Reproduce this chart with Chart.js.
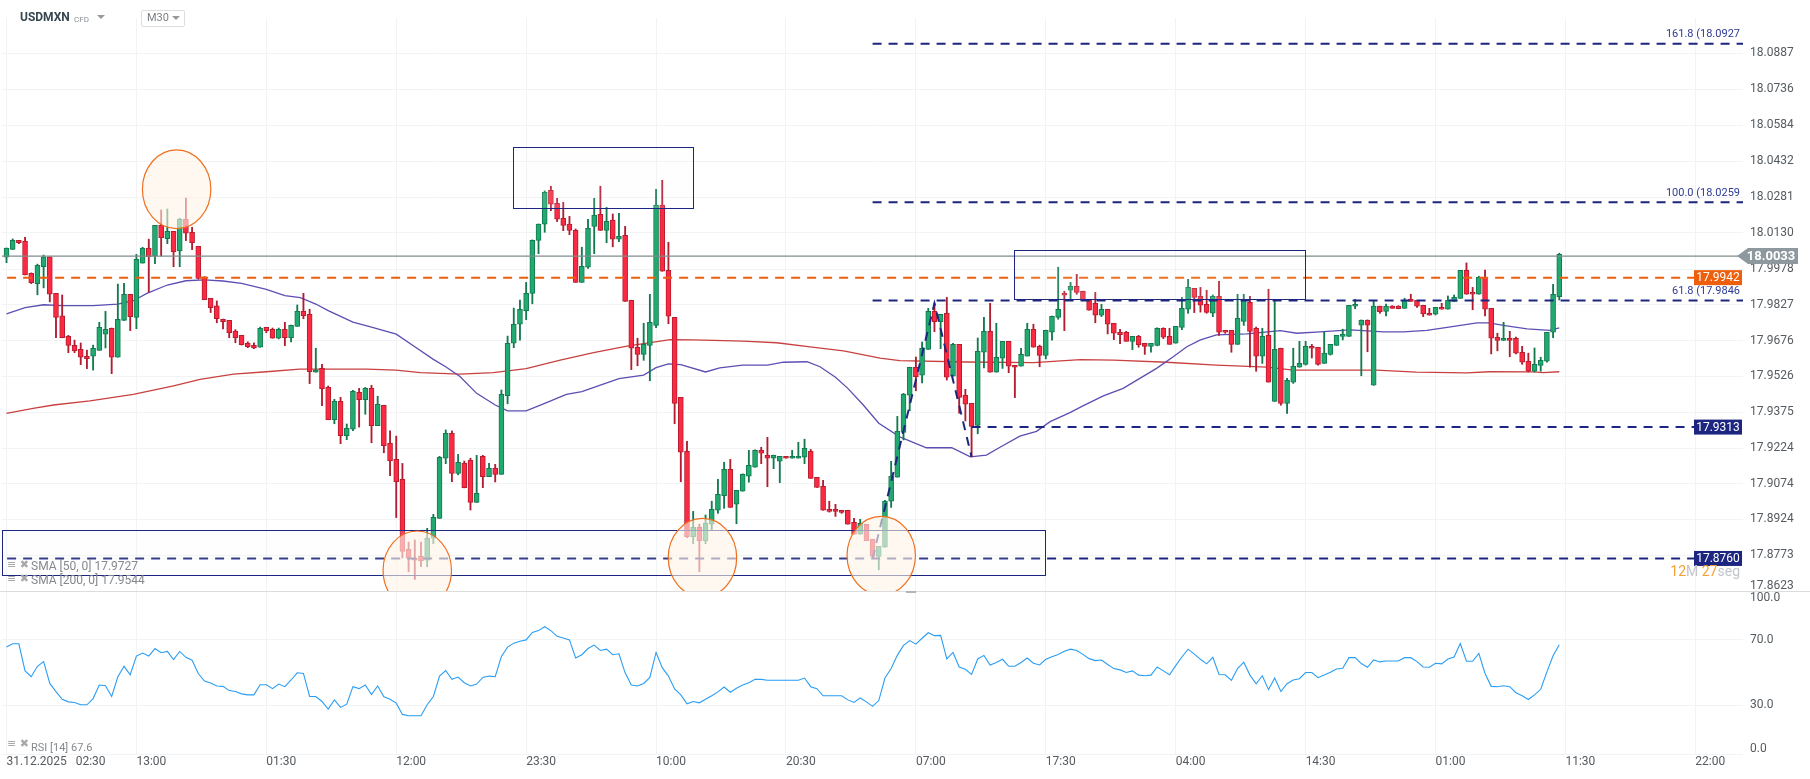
<!DOCTYPE html>
<html>
<head>
<meta charset="utf-8">
<title>USDMXN</title>
<script src="https://cdn.jsdelivr.net/npm/chart.js@4"></script>
<style>
html,body{margin:0;padding:0;background:#fff;overflow:hidden;font-family:Roboto,sans-serif;}
#wrap{position:relative;width:1810px;height:779px;}
canvas{position:absolute;left:0;}
#mainChart{top:0;}
#rsiChart{top:591px;}
#divider{position:absolute;left:0;top:591px;width:1810px;height:1px;background:#dcdcdc;}
#handle{position:absolute;left:906px;top:591px;width:10px;height:2px;background:#b5b5b5;}
.t{position:absolute;white-space:pre;}
.sym{left:20px;top:10px;font-size:12px;font-weight:700;color:#37474f;}
.cfd{left:74px;top:15px;font-size:8px;color:#8a8f94;}
.tri{width:0;height:0;border-left:4px solid transparent;border-right:4px solid transparent;border-top:4px solid #999;position:absolute;}
.tf{position:absolute;left:141px;top:10px;width:42px;height:15px;border:1px solid #dedede;border-radius:2px;background:#fff;}
.tfl{left:147px;top:11px;font-size:11px;color:#7a7f85;}
.leg{left:31px;font-size:12px;color:#85898d;}
.ico{left:7px;font-size:11px;color:#a9a9a9;font-family:"DejaVu Sans",sans-serif;}
.clock{left:1640px;width:100px;top:563px;text-align:right;font-size:14px;color:#c2c6ca;}
.clock b{font-weight:400;color:#f7a035;}
</style>
</head>
<body>
<div id="wrap">
  <canvas id="mainChart" width="1810" height="591"></canvas>
  <canvas id="rsiChart" width="1810" height="188"></canvas>
  <div id="divider"></div>
  <div id="handle"></div>
  <div class="t sym">USDMXN</div>
  <div class="t cfd">CFD</div>
  <div class="tri" style="left:97px;top:15px"></div>
  <div class="tf"></div>
  <div class="t tfl">M30</div>
  <div class="tri" style="left:172px;top:16px"></div>
  <div class="t ico" style="top:558px">≡ ✖</div>
  <div class="t leg" style="top:559px">SMA [50, 0] 17.9727</div>
  <div class="t ico" style="top:572px">≡ ✖</div>
  <div class="t leg" style="top:573px">SMA [200, 0] 17.9544</div>
  <div class="t ico" style="top:737px">≡ ✖</div>
  <div class="t leg" style="top:741px;font-size:11px">RSI [14] 67.6</div>
  <div class="t clock"><b>12</b>M <b>27</b>seg</div>
</div>
<script>
// ===== Data =====
const opens = [
18.0028,18.0061,18.0099,18.0096,17.9960,17.9917,17.9988,18.0030,17.9876,17.9781,
17.9695,17.9657,17.9640,17.9611,17.9611,17.9636,17.9704,17.9729,17.9607,17.9762,
17.9872,17.9775,18.0003,18.0066,18.0032,18.0162,18.0106,18.0137,18.0055,18.0188,
18.0133,18.0074,17.9946,17.9855,17.9823,17.9767,17.9762,17.9717,17.9699,17.9666,
17.9657,17.9649,17.9733,17.9725,17.9687,17.9725,17.9689,17.9737,17.9800,17.9788,
17.9544,17.9560,17.9480,17.9344,17.9421,17.9277,17.9304,17.9459,17.9428,17.9476,
17.9319,17.9405,17.9245,17.9177,17.9093,17.8798,17.8762,17.8769,17.8753,17.8845,
17.8929,17.9182,17.9287,17.9118,17.9161,17.9173,17.8996,17.9190,17.9104,17.9139,
17.9114,17.9445,17.9666,17.9746,17.9803,17.9876,18.0099,18.0167,18.0310,18.0255,
18.0192,18.0167,18.0141,17.9922,17.9986,18.0158,18.0209,18.0141,18.0184,18.0104,
18.0120,17.9847,17.9649,17.9619,17.9657,17.9741,18.0247,17.9973,17.9775,17.9438,
17.9211,17.8852,17.8891,17.8835,17.8904,17.8963,17.9024,17.9135,17.8988,17.9043,
17.9106,17.9144,17.9215,17.9194,17.9182,17.9169,17.9190,17.9182,17.9182,17.9186,
17.9211,17.9101,17.9064,17.8967,17.8967,17.8963,17.8963,17.8912,17.8862,17.8904,
17.8841,17.8769,17.8807,17.9001,17.9102,17.9291,17.9447,17.9565,17.9531,17.9640,
17.9800,17.9757,17.9792,17.9527,17.9661,17.9447,17.9413,17.9320,17.9628,17.9716,
17.9544,17.9603,17.9674,17.9573,17.9569,17.9612,17.9725,17.9653,17.9615,17.9712,
17.9775,17.9876,17.9889,17.9906,17.9885,17.9847,17.9834,17.9784,17.9809,17.9750,
17.9712,17.9712,17.9674,17.9695,17.9666,17.9653,17.9657,17.9729,17.9695,17.9666,
17.9733,17.9809,17.9897,17.9863,17.9830,17.9792,17.9863,17.9720,17.9720,17.9661,
17.9758,17.9838,17.9729,17.9611,17.9699,17.9421,17.9645,17.9413,17.9502,17.9565,
17.9577,17.9653,17.9649,17.9581,17.9619,17.9657,17.9695,17.9695,17.9822,17.9742,
17.9763,17.9489,17.9822,17.9800,17.9822,17.9822,17.9813,17.9851,17.9847,17.9826,
17.9792,17.9788,17.9817,17.9809,17.9842,17.9855,17.9973,17.9880,17.9872,17.9943,
17.9813,17.9691,17.9678,17.9687,17.9687,17.9628,17.9590,17.9548,17.9573,17.9590,17.9712,17.9862];

const closes = [
18.0066,18.0099,18.0089,17.9954,17.9921,17.9994,18.0030,17.9872,17.9775,17.9689,
17.9657,17.9634,17.9607,17.9601,17.9645,17.9733,17.9725,17.9607,17.9767,17.9872,
17.9778,18.0019,18.0066,18.0030,18.0162,18.0110,18.0137,18.0051,18.0188,18.0129,
18.0089,17.9939,17.9849,17.9816,17.9769,17.9757,17.9710,17.9689,17.9660,17.9651,
17.9646,17.9729,17.9719,17.9687,17.9725,17.9689,17.9741,17.9800,17.9782,17.9546,
17.9553,17.9475,17.9344,17.9421,17.9277,17.9308,17.9464,17.9428,17.9476,17.9319,
17.9409,17.9235,17.9171,17.9083,17.8790,17.8761,17.8753,17.8750,17.8845,17.8933,
17.9186,17.9287,17.9118,17.9165,17.9058,17.8996,17.9034,17.9104,17.9139,17.9114,
17.9451,17.9666,17.9746,17.9809,17.9876,18.0099,18.0167,18.0301,18.0251,18.0188,
18.0162,18.0141,17.9922,17.9990,18.0150,18.0205,18.0141,18.0179,18.0104,18.0116,
17.9842,17.9645,17.9619,17.9661,17.9754,18.0247,17.9969,17.9780,17.9413,17.9207,
17.8852,17.8891,17.8835,17.8908,17.8967,17.9030,17.9135,17.8975,17.9047,17.9114,
17.9152,17.9215,17.9203,17.9182,17.9194,17.9190,17.9182,17.9190,17.9190,17.9224,
17.9097,17.9059,17.8963,17.8958,17.8958,17.8954,17.8904,17.8862,17.8908,17.8835,
17.8769,17.8811,17.9001,17.9106,17.9295,17.9452,17.9565,17.9525,17.9645,17.9800,
17.9757,17.9788,17.9523,17.9661,17.9438,17.9409,17.9316,17.9632,17.9716,17.9544,
17.9607,17.9674,17.9569,17.9565,17.9619,17.9725,17.9649,17.9615,17.9720,17.9779,
17.9809,17.9868,17.9906,17.9880,17.9847,17.9805,17.9784,17.9809,17.9746,17.9708,
17.9702,17.9674,17.9695,17.9660,17.9653,17.9666,17.9729,17.9691,17.9661,17.9737,
17.9813,17.9901,17.9859,17.9826,17.9796,17.9863,17.9712,17.9712,17.9661,17.9771,
17.9847,17.9716,17.9611,17.9695,17.9502,17.9640,17.9413,17.9510,17.9569,17.9581,
17.9653,17.9645,17.9577,17.9624,17.9661,17.9699,17.9704,17.9826,17.9830,17.9763,
17.9742,17.9822,17.9799,17.9822,17.9813,17.9811,17.9847,17.9842,17.9822,17.9789,
17.9784,17.9817,17.9809,17.9847,17.9859,17.9973,17.9872,17.9872,17.9943,17.9809,
17.9687,17.9678,17.9687,17.9678,17.9624,17.9586,17.9548,17.9577,17.9594,17.9712,17.9872,18.0040];

const highs = [
18.0067,18.0105,18.0099,18.0112,17.9962,17.9999,18.0037,18.0030,17.9876,17.9869,
17.9699,17.9679,17.9667,17.9637,17.9658,17.9754,17.9800,17.9730,17.9915,17.9918,
17.9872,18.0040,18.0070,18.0104,18.0162,18.0227,18.0231,18.0137,18.0192,18.0277,
18.0154,18.0074,17.9946,17.9855,17.9844,17.9768,17.9762,17.9723,17.9699,17.9672,
17.9668,17.9734,17.9733,17.9730,17.9730,17.9754,17.9742,17.9827,17.9876,17.9809,
17.9645,17.9577,17.9486,17.9430,17.9438,17.9326,17.9468,17.9476,17.9480,17.9489,
17.9443,17.9405,17.9297,17.9275,17.9160,17.8829,17.8838,17.8829,17.8887,17.8946,
17.9190,17.9301,17.9297,17.9198,17.9170,17.9182,17.9194,17.9194,17.9160,17.9156,
17.9469,17.9696,17.9814,17.9848,17.9922,18.0101,18.0168,18.0307,18.0327,18.0276,
18.0259,18.0200,18.0147,18.0070,18.0188,18.0276,18.0327,18.0238,18.0210,18.0213,
18.0158,17.9847,17.9687,17.9750,17.9872,18.0314,18.0352,18.0091,17.9775,17.9438,
17.9253,17.8958,17.8904,17.8943,17.9001,17.9093,17.9165,17.9177,17.9047,17.9116,
17.9215,17.9217,17.9228,17.9270,17.9195,17.9190,17.9190,17.9215,17.9249,17.9262,
17.9219,17.9101,17.9089,17.9001,17.8988,17.8963,17.8963,17.8929,17.8925,17.8904,
17.8841,17.8811,17.9005,17.9169,17.9358,17.9455,17.9565,17.9608,17.9671,17.9813,
17.9834,17.9788,17.9859,17.9666,17.9661,17.9472,17.9413,17.9688,17.9775,17.9834,
17.9750,17.9674,17.9674,17.9573,17.9645,17.9750,17.9746,17.9658,17.9721,17.9780,
17.9986,17.9885,17.9922,17.9956,17.9885,17.9847,17.9880,17.9830,17.9809,17.9750,
17.9725,17.9716,17.9695,17.9699,17.9666,17.9666,17.9731,17.9731,17.9729,17.9737,
17.9859,17.9935,17.9897,17.9901,17.9889,17.9869,17.9927,17.9720,17.9720,17.9872,
17.9872,17.9863,17.9734,17.9729,17.9893,17.9845,17.9645,17.9518,17.9645,17.9674,
17.9674,17.9661,17.9649,17.9712,17.9661,17.9699,17.9725,17.9826,17.9851,17.9764,
17.9764,17.9843,17.9822,17.9831,17.9824,17.9824,17.9855,17.9872,17.9847,17.9826,
17.9813,17.9817,17.9834,17.9865,17.9869,17.9973,18.0004,17.9901,17.9948,17.9974,
17.9813,17.9708,17.9754,17.9716,17.9692,17.9653,17.9624,17.9646,17.9607,17.9712,17.9914,18.0045];

const lows = [
18.0005,18.0060,18.0085,17.9953,17.9917,17.9870,17.9899,17.9840,17.9689,17.9689,
17.9626,17.9626,17.9576,17.9559,17.9553,17.9636,17.9646,17.9538,17.9607,17.9762,
17.9719,17.9727,18.0003,17.9880,18.0001,18.0033,18.0085,17.9988,17.9988,18.0098,
18.0060,17.9936,17.9849,17.9795,17.9752,17.9726,17.9689,17.9668,17.9658,17.9647,
17.9643,17.9649,17.9710,17.9687,17.9684,17.9656,17.9672,17.9737,17.9769,17.9496,
17.9544,17.9403,17.9344,17.9327,17.9243,17.9260,17.9298,17.9313,17.9367,17.9247,
17.9319,17.9205,17.9108,17.8932,17.8762,17.8704,17.8672,17.8725,17.8725,17.8822,
17.8929,17.9159,17.9083,17.9112,17.9057,17.8964,17.8996,17.9058,17.9104,17.9082,
17.9114,17.9411,17.9647,17.9679,17.9765,17.9832,18.0043,18.0133,18.0224,18.0178,
18.0140,18.0123,17.9922,17.9922,17.9981,18.0043,18.0141,18.0089,18.0072,18.0093,
17.9842,17.9555,17.9571,17.9594,17.9508,17.9731,17.9969,17.9748,17.9327,17.9083,
17.8848,17.8822,17.8704,17.8822,17.8881,17.8950,17.8971,17.8975,17.8906,17.9043,
17.9081,17.9144,17.9159,17.9062,17.9138,17.9079,17.9182,17.9182,17.9182,17.9159,
17.9097,17.9059,17.8963,17.8955,17.8937,17.8950,17.8904,17.8862,17.8862,17.8835,
17.8769,17.8712,17.8807,17.8975,17.9102,17.9259,17.9382,17.9466,17.9499,17.9640,
17.9715,17.9643,17.9511,17.9527,17.9371,17.9339,17.9188,17.9285,17.9562,17.9544,
17.9544,17.9560,17.9542,17.9437,17.9569,17.9612,17.9649,17.9567,17.9600,17.9679,
17.9767,17.9719,17.9851,17.9872,17.9847,17.9805,17.9752,17.9778,17.9705,17.9681,
17.9664,17.9674,17.9639,17.9649,17.9619,17.9628,17.9655,17.9685,17.9661,17.9666,
17.9723,17.9792,17.9795,17.9797,17.9792,17.9778,17.9699,17.9708,17.9628,17.9661,
17.9741,17.9565,17.9548,17.9581,17.9502,17.9421,17.9405,17.9371,17.9497,17.9565,
17.9574,17.9604,17.9574,17.9581,17.9616,17.9657,17.9680,17.9695,17.9811,17.9529,
17.9630,17.9489,17.9792,17.9781,17.9813,17.9811,17.9813,17.9842,17.9817,17.9778,
17.9784,17.9785,17.9809,17.9809,17.9842,17.9855,17.9872,17.9807,17.9872,17.9781,
17.9621,17.9634,17.9678,17.9609,17.9621,17.9577,17.9545,17.9545,17.9548,17.9586,17.9689,17.9848];

const sma50Idx = [0,3,6,9,14,18,20.5,22.7,26,29,32,35,38,42,45,47.5,50,52,56,59,63,66,69,71,73.3,76,79,81,84,87,90.5,93,96,99,103,105,107,109,113,115.3,119,123,125.6,129.4,131.5,134,136,138.5,141,144.4,148.7,152.8,155.8,158.4,160.6,163.8,166.5,168.7,171.9,174,177.3,180.5,183.2,185.9,188.6,190.8,193,195.6,200.5,205.9,208.6,212.3,217.2,222.6,225.8,229.6,234.5,237.7,239.6,242.5,245.8,249.5,251];
const sma50 = [17.9790,17.9816,17.9828,17.9824,17.9824,17.9831,17.9845,17.9876,17.9911,17.9929,17.9933,17.9928,17.9918,17.9893,17.9866,17.9858,17.9831,17.9803,17.9755,17.9734,17.9704,17.9651,17.9598,17.9567,17.9526,17.9455,17.9406,17.9381,17.9381,17.9413,17.9451,17.9462,17.9490,17.9517,17.9532,17.9563,17.9579,17.9576,17.9545,17.9562,17.9574,17.9574,17.9586,17.9588,17.9567,17.9523,17.9476,17.9406,17.9329,17.9272,17.9226,17.9226,17.9188,17.9195,17.9228,17.9275,17.9295,17.9336,17.9374,17.9402,17.9444,17.9476,17.9518,17.9560,17.9609,17.9651,17.9680,17.9701,17.9705,17.9719,17.9708,17.9714,17.9722,17.9714,17.9714,17.9720,17.9739,17.9752,17.9752,17.9739,17.9726,17.9720,17.9731];

const sma200Idx = [0,4.3,7.6,13.5,20.5,27,31.3,36.7,42,47.4,58.2,63,66.9,73.3,78.7,84,89.5,94.9,100.3,103.5,107.3,111,119.1,124.5,129.9,135.3,141.2,144.4,155.2,166,173.6,179,187.5,195.6,203.7,208,221.4,227.9,236,239.8,246.8,248.4,251];
const sma200 = [17.9371,17.9392,17.9406,17.9423,17.9451,17.9486,17.9514,17.9536,17.9546,17.9557,17.9557,17.9553,17.9542,17.9536,17.9542,17.9559,17.9595,17.9626,17.9654,17.9666,17.9681,17.9680,17.9675,17.9668,17.9651,17.9634,17.9603,17.9593,17.9587,17.9584,17.9597,17.9595,17.9586,17.9574,17.9565,17.9553,17.9553,17.9544,17.9541,17.9546,17.9545,17.9542,17.9546];

const rsiValues = [
65.6,67.6,67.6,51,47.4,53.8,56.7,43.3,38.3,33.6,32,31.6,30.2,30.2,34,42.3,41.9,35.3,47.4,53.8,
48.6,60.1,61.9,60.1,64.7,62.1,62.9,57.9,62.9,59.3,57.5,49.4,44.8,43.5,41.7,41.5,38.9,38.3,36.9,36.3,
36.3,42.5,42.5,40.1,42.9,41.3,45.4,49.8,49.4,35.3,35.3,32.2,27.6,33.2,28.6,30.6,41.3,40.1,42.3,36.5,
41.7,35.1,33.6,31.2,24.3,23.5,23.5,23.5,30.2,35.3,47.8,51.2,45.8,47.2,43.7,41.7,42.9,47,47.8,47.4,
59.9,65.6,68,69.2,70,74.6,75.7,78.1,75.7,72.2,71.2,70,58.9,60.9,64.7,66.8,63.5,64.3,60.9,61.5,
49.8,42.3,41.7,43.3,47,62.3,53,47.8,39.9,36.3,30.8,32.2,31.4,33.6,35.7,38.1,41.1,37.9,40.3,42.3,
43.7,45.8,45.8,45.2,45.2,45.2,45.2,45.2,45.2,46.6,41.3,40.1,35.7,35.7,35.7,35.7,33.2,31.6,34.4,32,
29.2,32.8,46.6,52.4,60.5,66.6,69.6,67.4,71,74.4,72.6,72.8,58.3,62.3,53.4,52,48.8,58.3,60.5,54.6,
56.1,58.1,53.8,53.8,56.1,58.9,55.7,54.6,58.1,59.7,61.1,63.1,64.3,63.5,61.1,58.5,57.3,57.7,54.9,52.4,
51.6,50,51,48.4,48,48.4,53.4,51,48.6,54.2,59.5,64.3,61.3,58.1,55.3,59.3,48.8,48.6,45.2,52.4,
56.3,48.4,43.1,48,39.5,46.6,38.3,43.1,45.4,46.2,50,50,46.8,48.4,50.2,52.2,52.6,59.1,59.1,55.5,
53.2,57.7,56.5,57.1,57.1,57.1,59.1,59.1,56.7,53.4,53.2,55.7,55.3,58.3,59.5,67.8,56.9,56.9,61.7,49.4,
41.5,41.3,41.9,41.3,37.6,35.7,33.4,36.3,39.7,50.4,60.3,67];

const priceTicks = [17.8623,17.8773,17.8924,17.9074,17.9224,17.9375,17.9526,17.9676,17.9827,17.9978,18.0130,18.0281,18.0432,18.0584,18.0736,18.0887];
const rsiTicks = [100,70,30,0];
const xTickIdx = [0,21,42,63,84,105,126,147,168,189,210,231,252,273];
const xTickLabels = ['31.12.2025   02:30','13:00','01:30','12:00','23:30','10:00','20:30','07:00','17:30','04:00','14:30','01:00','11:30','22:00'];

const lastPrice = 18.0033;
const orangeLevel = 17.9942;
const navyLevels = [17.9313,17.8760];
const navyStarts = [156,0.1];
const fibLevels = [17.9846,18.0259,18.0927];
const fibNames = ['61.8 (17.9846','100.0 (18.0259','161.8 (18.0927'];
const swingIdx = [140,150,156];
const swingPrices = [17.8760,17.9834,17.9188];

const circleIdx = [27.5,66.4,112.5,141.4];
const circlePrices = [18.0314,17.8710,17.8763,17.8772];
const circleRx = 5.53, circleRy = 0.01655;
const boxLeft = [81.9,-0.73,162.9];
const boxRight = [111,167.9,210];
const boxTop = [18.0491,17.8878,18.0057];
const boxBottom = [18.0234,17.8689,17.9851];

const xMin = -0.727, xMax = 280.7;
const levelEnd = 272.8, fibStart = 140;
const NAVY = '#1c2680', ORANGE = '#ee5f0c', GRID = '#f2f3f4';

Chart.defaults.font.family = 'Roboto';
Chart.defaults.animation = false;

const bullish = i => closes[i] >= opens[i];
const lineSet = (points, color, width, dash, order) => ({
    type: 'line', data: points, borderColor: color, borderWidth: width,
    borderDash: dash || [], pointRadius: 0, tension: 0, order
});
const level = (price, from, to, color, order) =>
    lineSet([{x: from, y: price}, {x: to, y: price}], color, 2, [9, 7], order);

// labels may hang over the plot edges, the plot itself must not shrink for them
const noPad = s => { s.paddingTop = s.paddingBottom = s.paddingLeft = s.paddingRight = 0; };

// x axis is shared by both panes
function xAxis(showLabels, height) {
    return {
        type: 'linear', min: xMin, max: xMax, offset: false,
        afterBuildTicks: s => { s.ticks = xTickIdx.map(v => ({value: v})); },
        afterFit: s => { s.height = height; noPad(s); },
        border: {display: false},
        grid: {color: GRID, drawTicks: false, offset: false},
        ticks: {
            display: showLabels, autoSkip: false, maxRotation: 0, align: 'start',
            padding: 1, color: '#555b60', font: {size: 12},
            callback: (v, i) => xTickLabels[i]
        }
    };
}

// ===== Price pane =====
const overlayPlugin = {
    id: 'overlay',
    afterDatasetsDraw(chart) {
        const c = chart.ctx, x = chart.scales.x, y = chart.scales.y;
        c.save();
        // boxes, snapped so the 1px outline stays crisp
        boxLeft.forEach((l, i) => {
            const px = Math.round(x.getPixelForValue(l)) + 0.5, py = Math.round(y.getPixelForValue(boxTop[i])) + 0.5;
            const w = Math.round(x.getPixelForValue(boxRight[i]) - px), h = Math.round(y.getPixelForValue(boxBottom[i]) - py);
            c.fillStyle = 'rgba(246,246,250,0.12)';
            c.fillRect(px, py, w, h);
            c.strokeStyle = NAVY; c.lineWidth = 1;
            c.strokeRect(px, py, w, h);
        });
        // circles
        circleIdx.forEach((v, i) => {
            const cx = x.getPixelForValue(v), cy = y.getPixelForValue(circlePrices[i]);
            const rx = x.getPixelForValue(v + circleRx) - cx;
            const ry = y.getPixelForValue(circlePrices[i] - circleRy) - cy;
            c.beginPath();
            c.ellipse(cx, cy, rx, ry, 0, 0, Math.PI * 2);
            c.fillStyle = 'rgba(255,244,230,0.6)';
            c.fill();
            c.strokeStyle = '#ef6f1e'; c.lineWidth = 1.2;
            c.stroke();
        });
        // fibonacci labels
        c.font = '11px Roboto'; c.fillStyle = '#2d3a94';
        c.textAlign = 'right'; c.textBaseline = 'middle';
        fibLevels.forEach((p, i) => c.fillText(fibNames[i], 1740, y.getPixelForValue(p) - 9));
        // price tags
        const tag = (p, color) => {
            const py = y.getPixelForValue(p);
            c.fillStyle = color;
            c.fillRect(1694, py - 7.5, 48, 15);
            c.fillStyle = '#fff'; c.textAlign = 'center'; c.font = '12px Roboto';
            c.fillText(p.toFixed(4), 1718, py + 0.5);
        };
        tag(orangeLevel, ORANGE);
        navyLevels.forEach(p => tag(p, NAVY));
        // last price flag
        const ly = y.getPixelForValue(lastPrice);
        c.fillStyle = '#8d999e';
        c.beginPath();
        c.moveTo(1737, ly);
        c.lineTo(1748, ly - 8);
        c.lineTo(1798, ly - 8);
        c.lineTo(1798, ly + 8);
        c.lineTo(1748, ly + 8);
        c.closePath();
        c.fill();
        c.fillStyle = '#fff'; c.font = 'bold 13px Roboto'; c.textAlign = 'center';
        c.fillText(lastPrice.toFixed(4), 1771, ly + 0.5);
        // bottom tick sits above the pane edge
        c.fillStyle = '#555b60'; c.font = '12px Roboto'; c.textAlign = 'left';
        c.fillText(priceTicks[0].toFixed(4), 1750, y.getPixelForValue(priceTicks[0]) - 5);
        c.restore();
    }
};

new Chart(document.getElementById('mainChart'), {
    type: 'bar',
    data: {
        datasets: [
            lineSet(sma50Idx.map((v, i) => ({x: v, y: sma50[i]})), '#5b4fb3', 1.3, null, 9),
            lineSet(sma200Idx.map((v, i) => ({x: v, y: sma200[i]})), '#c8413f', 1.3, null, 9),
            {
                data: highs.map((h, i) => ({x: i, y: [lows[i], h]})),
                backgroundColor: highs.map((h, i) => bullish(i) ? '#137a4e' : '#b01c30'),
                barThickness: 1.2, order: 8, grouped: false
            },
            {
                data: opens.map((o, i) => ({x: i, y: [o, closes[i]]})),
                backgroundColor: opens.map((o, i) => bullish(i) ? '#21a96f' : '#fb2a42'),
                borderColor: opens.map((o, i) => bullish(i) ? '#127a50' : '#b71c2f'),
                borderWidth: 1, borderSkipped: false,
                barThickness: 5, order: 7, grouped: false
            },
            lineSet([{x: xMin, y: lastPrice}, {x: 280, y: lastPrice}], '#7f8c8d', 1.2, null, 6),
            level(orangeLevel, 0.1, levelEnd, ORANGE, 5),
            level(navyLevels[0], navyStarts[0], levelEnd, NAVY, 5),
            level(navyLevels[1], navyStarts[1], levelEnd, NAVY, 5),
            level(fibLevels[0], fibStart, xMax, NAVY, 5),
            level(fibLevels[1], fibStart, xMax, NAVY, 5),
            level(fibLevels[2], fibStart, xMax, NAVY, 5),
            lineSet(swingIdx.map((v, i) => ({x: v, y: swingPrices[i]})), NAVY, 2, [9, 7], 5)
        ]
    },
    options: {
        responsive: false, devicePixelRatio: 1,
        layout: {autoPadding: false, padding: {left: 2, top: 18, right: 0, bottom: 0}},
        plugins: {legend: {display: false}, tooltip: {enabled: false}},
        scales: {
            x: xAxis(false, 0),
            y: {
                position: 'right', min: 17.8623, max: 18.1035,
                afterBuildTicks: s => { s.ticks = priceTicks.map(v => ({value: v})); },
                afterFit: s => { s.width = 67; noPad(s); },
                border: {display: false},
                grid: {color: GRID, drawTicks: false},
                ticks: {
                    padding: 7, color: '#555b60', font: {size: 12},
                    callback: v => v === priceTicks[0] ? '' : v.toFixed(4)
                }
            }
        }
    },
    plugins: [overlayPlugin]
});

// ===== RSI pane =====
const rsiEdgePlugin = {
    id: 'rsiEdge',
    afterDraw(chart) {
        const c = chart.ctx, y = chart.scales.y;
        c.save();
        c.fillStyle = '#555b60'; c.font = '12px Roboto';
        c.textAlign = 'left'; c.textBaseline = 'middle';
        c.fillText('100.0', 1750, y.getPixelForValue(100) + 7);
        c.fillText('0.0', 1750, y.getPixelForValue(0) - 5);
        c.restore();
    }
};

new Chart(document.getElementById('rsiChart'), {
    type: 'line',
    data: {
        datasets: [lineSet(rsiValues.map((v, i) => ({x: i, y: v})), '#2a9df4', 1.1, null, 1)]
    },
    options: {
        responsive: false, devicePixelRatio: 1,
        layout: {autoPadding: false, padding: {left: 2, top: 0, right: 0, bottom: 0}},
        plugins: {legend: {display: false}, tooltip: {enabled: false}},
        scales: {
            x: xAxis(true, 25),
            y: {
                position: 'right', min: 0, max: 100,
                afterBuildTicks: s => { s.ticks = rsiTicks.map(v => ({value: v})); },
                afterFit: s => { s.width = 67; noPad(s); },
                border: {display: false},
                grid: {color: GRID, drawTicks: false},
                ticks: {
                    padding: 7, color: '#555b60', font: {size: 12},
                    callback: v => (v === 100 || v === 0) ? '' : v.toFixed(1)
                }
            }
        }
    },
    plugins: [rsiEdgePlugin]
});
</script>
</body>
</html>
